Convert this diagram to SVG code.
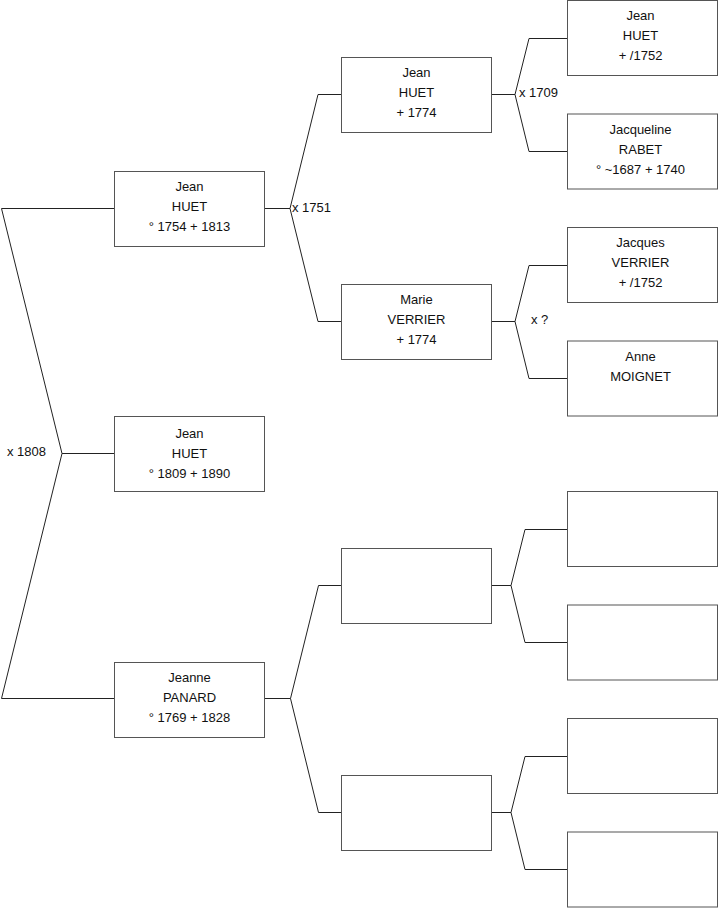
<svg xmlns="http://www.w3.org/2000/svg" width="719" height="908" viewBox="0 0 719 908">
<style>
.box{fill:#fff;stroke:#555;stroke-width:1}
.c{fill:none;stroke:#222;stroke-width:1}
text{font-family:"Liberation Sans",Arial,sans-serif;font-size:13px;fill:#111}
.n{text-anchor:middle}
</style>
<rect width="719" height="908" fill="#fff"/>
<g id="connectors">
<path class="c" d="M114,208.5 H1.5 L62,453.5 L1.5,698.5 H114 M62,453.5 H114"/>
<path class="c" d="M265,208.5 H290 L318,94.5 H341 M290,208.5 L318,321.5 H341"/>
<path class="c" d="M265,698.5 H290.5 L318.5,585.5 H341 M290.5,698.5 L318.5,812.5 H341"/>
<path class="c" d="M492,94.5 H515 L529,38.5 H567 M515,94.5 L529,151.5 H567"/>
<path class="c" d="M492,321.5 H515 L529,265.5 H567 M515,321.5 L529,378.5 H567"/>
<path class="c" d="M492,585.5 H511 L525,529.5 H567 M511,585.5 L525,642.5 H567"/>
<path class="c" d="M492,812.5 H511 L525,756.5 H567 M511,812.5 L525,869.5 H567"/>
<text x="46" y="456" text-anchor="end">x 1808</text>
<text x="292" y="212">x 1751</text>
<text x="519" y="97">x 1709</text>
<text x="531" y="324">x ?</text>
</g>
<g id="n1"><rect class="box" x="114.5" y="171.5" width="150" height="75"/><text class="n" x="189.5" y="191">Jean</text><text class="n" x="189.5" y="211">HUET</text><text class="n" x="189.5" y="231">° 1754 + 1813</text></g>
<g id="n0"><rect class="box" x="114.5" y="416.5" width="150" height="75"/><text class="n" x="189.5" y="438">Jean</text><text class="n" x="189.5" y="458">HUET</text><text class="n" x="189.5" y="478">° 1809 + 1890</text></g>
<g id="n2"><rect class="box" x="114.5" y="662.5" width="150" height="75"/><text class="n" x="189.5" y="682">Jeanne</text><text class="n" x="189.5" y="702">PANARD</text><text class="n" x="189.5" y="722">° 1769 + 1828</text></g>
<g id="n3"><rect class="box" x="341.5" y="57.5" width="150" height="75"/><text class="n" x="416.5" y="77">Jean</text><text class="n" x="416.5" y="97">HUET</text><text class="n" x="416.5" y="117">+ 1774</text></g>
<g id="n4"><rect class="box" x="341.5" y="284.5" width="150" height="75"/><text class="n" x="416.5" y="304">Marie</text><text class="n" x="416.5" y="324">VERRIER</text><text class="n" x="416.5" y="344">+ 1774</text></g>
<g id="n5"><rect class="box" x="341.5" y="548.5" width="150" height="75"/></g>
<g id="n6"><rect class="box" x="341.5" y="775.5" width="150" height="75"/></g>
<g id="n7"><rect class="box" x="567.5" y="0.5" width="150" height="75"/><text class="n" x="640.5" y="20">Jean</text><text class="n" x="640.5" y="40">HUET</text><text class="n" x="640.5" y="60">+ /1752</text></g>
<g id="n8"><rect class="box" x="567.5" y="114" width="150" height="75"/><text class="n" x="640.5" y="134">Jacqueline</text><text class="n" x="640.5" y="154">RABET</text><text class="n" x="640.5" y="174">° ~1687 + 1740</text></g>
<g id="n9"><rect class="box" x="567.5" y="227.5" width="150" height="75"/><text class="n" x="640.5" y="247">Jacques</text><text class="n" x="640.5" y="267">VERRIER</text><text class="n" x="640.5" y="287">+ /1752</text></g>
<g id="n10"><rect class="box" x="567.5" y="341" width="150" height="75"/><text class="n" x="640.5" y="361">Anne</text><text class="n" x="640.5" y="381">MOIGNET</text></g>
<g id="n11"><rect class="box" x="567.5" y="491.5" width="150" height="75"/></g>
<g id="n12"><rect class="box" x="567.5" y="605" width="150" height="75"/></g>
<g id="n13"><rect class="box" x="567.5" y="718.5" width="150" height="75"/></g>
<g id="n14"><rect class="box" x="567.5" y="832" width="150" height="75"/></g>
</svg>
